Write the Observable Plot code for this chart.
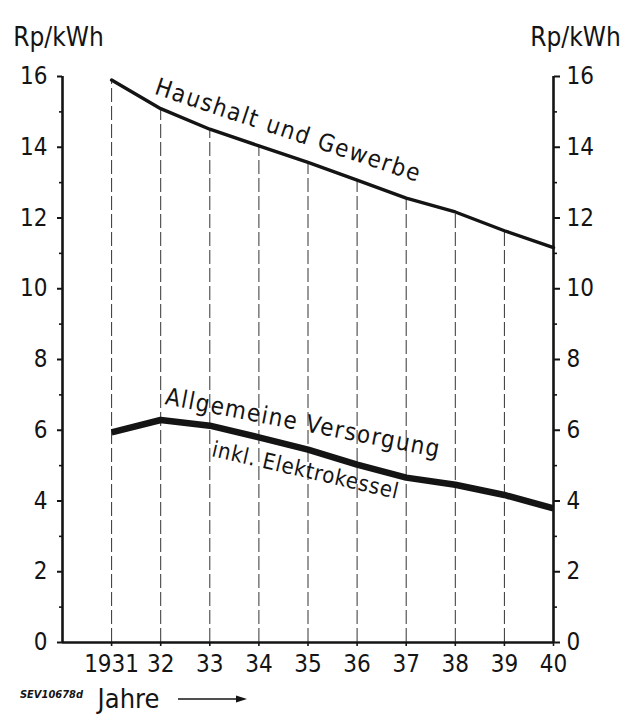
<!DOCTYPE html>
<html>
<head>
<meta charset="utf-8">
<script src="https://cdn.jsdelivr.net/npm/d3@7"></script>
<script src="https://cdn.jsdelivr.net/npm/@observablehq/plot@0.6"></script>
<style>
  html, body { margin: 0; padding: 0; background: #fff; }
  #chart { width: 622px; height: 716px; }
</style>
</head>
<body>
<div id="chart"></div>
<script>
// ---- data ----
const years = [1931, 1932, 1933, 1934, 1935, 1936, 1937, 1938, 1939, 1940];
const haushaltGewerbe = [15.9, 15.09, 14.51, 14.04, 13.57, 13.07, 12.56, 12.17, 11.64, 11.16];
const allgemeineVersorgung = [5.94, 6.29, 6.13, 5.8, 5.45, 5.03, 4.66, 4.46, 4.17, 3.79];
const yMajorTicks = [0, 2, 4, 6, 8, 10, 12, 14, 16];
const yMinorTicks = [1, 3, 5, 7, 9, 11, 13, 15];
const xTickLabels = ["1931", "32", "33", "34", "35", "36", "37", "38", "39", "40"];
const unitLabel = "Rp/kWh";
const xAxisLabel = "Jahre";
const refLabel = "SEV10678d";
// series labels: text, anchor year, anchor value, rotation
const seriesLabels = [
  {text: "Haushalt und Gewerbe", x: 1934.6, y: 14.47, rotate: 18.5, size: 24, spacing: 1.6},
  {text: "Allgemeine Versorgung", x: 1934.9, y: 6.2, rotate: 11, size: 24, spacing: 1.4},
  {text: "inkl. Elektrokessel", x: 1934.95, y: 4.86, rotate: 13, size: 22, spacing: 0.7}
];

const font = "'Liberation Sans Narrow', 'DejaVu Sans Condensed', 'DejaVu Sans', sans-serif";
const ink = "#141414";

const upper = years.map((x, i) => ({x, y: haushaltGewerbe[i]}));
const lower = years.map((x, i) => ({x, y: allgemeineVersorgung[i]}));
const grid = years.slice(0, 9).map((x, i) => ({x, top: haushaltGewerbe[i]}));

const chart = Plot.plot({
  width: 622,
  height: 716,
  marginLeft: 62,
  marginRight: 69,
  marginTop: 76,
  marginBottom: 74,
  x: {domain: [1930, 1940], axis: null},
  y: {domain: [0, 16], axis: null},
  style: {fontFamily: font, background: "#fff", color: ink, overflow: "visible"},
  marks: [
    // dashed vertical guide lines
    Plot.ruleX(grid, {x: "x", y1: 0, y2: "top", stroke: "#333", strokeWidth: 1, strokeDasharray: "14,4"}),
    // frame: baseline and two vertical axes
    Plot.ruleY([0], {stroke: ink, strokeWidth: 2.6}),
    Plot.ruleX([1930], {y1: 0, y2: 16, stroke: ink, strokeWidth: 2.6}),
    Plot.ruleX([1940], {y1: 0, y2: 16, stroke: ink, strokeWidth: 2.6}),
    // left axis
    Plot.axisY({anchor: "left", ticks: yMajorTicks, tickSize: 5, tickPadding: 10, fontSize: 24, label: null, strokeWidth: 2, stroke: ink, fill: ink}),
    Plot.axisY({anchor: "left", ticks: yMinorTicks, tickSize: 3, text: null, label: null, strokeWidth: 1.6, stroke: ink}),
    // right axis
    Plot.axisY({anchor: "right", ticks: yMajorTicks, tickSize: 6, tickPadding: 7, fontSize: 24, label: null, strokeWidth: 2, stroke: ink, fill: ink}),
    Plot.axisY({anchor: "right", ticks: yMinorTicks, tickSize: 3, text: null, label: null, strokeWidth: 1.6, stroke: ink}),
    // x axis
    Plot.axisX({ticks: years, tickSize: 4, tickPadding: 8, fontSize: 24, label: null, strokeWidth: 1.6, stroke: ink, fill: ink,
      tickFormat: d => xTickLabels[years.indexOf(d)]}),
    // series
    Plot.line(upper, {x: "x", y: "y", stroke: ink, strokeWidth: 3.4, strokeLinejoin: "round", strokeLinecap: "round"}),
    Plot.line(lower, {x: "x", y: "y", stroke: ink, strokeWidth: 6.5, strokeLinejoin: "round", strokeLinecap: "butt"}),
    // series labels
    Plot.text(seriesLabels, {x: "x", y: "y", text: "text", rotate: d => d.rotate, fontSize: d => d.size, fill: ink, textAnchor: "middle"}),
    // unit labels
    Plot.text([unitLabel], {frameAnchor: "top-left", dx: -4, dy: -49, fontSize: 26, fill: ink, textAnchor: "middle"}),
    Plot.text([unitLabel], {frameAnchor: "top-right", dx: 22, dy: -49, fontSize: 26, fill: ink, textAnchor: "middle"}),
    // x label
    Plot.text([xAxisLabel], {frameAnchor: "bottom-left", dx: 66, dy: 65, fontSize: 27, fill: ink, textAnchor: "middle", lineAnchor: "bottom"}),
    Plot.text([refLabel], {frameAnchor: "bottom-left", dx: -11, dy: 55, fontSize: 11, fontStyle: "italic", fontWeight: "bold", fill: ink, textAnchor: "middle"})
  ]
});

document.getElementById("chart").appendChild(chart);

// letter spacing for the hand-lettered series labels
const svg = d3.select(chart);
svg.selectAll("g[aria-label='text'] text").each(function() {
  const s = seriesLabels.find(s => s.text === this.textContent);
  if (s) d3.select(this).style("letter-spacing", s.spacing + "px");
});

// arrow after "Jahre"
const ax = 178, bx = 247, ay = 699;
svg.append("line").attr("x1", ax).attr("x2", bx - 8).attr("y1", ay).attr("y2", ay)
  .attr("stroke", ink).attr("stroke-width", 1.6);
svg.append("path").attr("d", `M${bx},${ay} L${bx - 11},${ay - 3.5} L${bx - 11},${ay + 3.5} Z`).attr("fill", ink);
</script>
</body>
</html>
